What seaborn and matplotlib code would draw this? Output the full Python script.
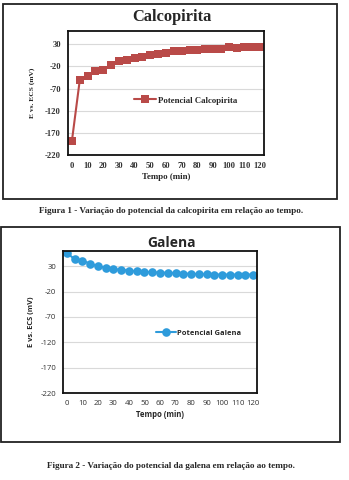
import matplotlib
matplotlib.use("Agg")
import matplotlib.pyplot as plt
import seaborn as sns
import pandas as pd
from matplotlib.patches import Rectangle

sns.set_theme(style="white")

tempo = [0, 5, 10, 15, 20, 25, 30, 35, 40, 45, 50, 55, 60, 65, 70, 75, 80, 85, 90, 95, 100, 105, 110, 115, 120]
calcopirita = [-188, -51, -41, -30, -28, -17, -7, -5, 0, 2, 5, 8, 10, 14, 14, 17, 18, 19, 20, 20, 23, 22, 23, 24, 24]
galena = [56, 44, 41, 35, 30, 27, 24, 23, 21.5, 20, 19, 18, 17.5, 17, 16.5, 15.5, 15, 14.5, 14, 13.5, 13.5, 13.5, 13.5, 13.5, 13.5]
yticks = [30, -20, -70, -120, -170, -220]
xtick_labels = [0, 10, 20, 30, 40, 50, 60, 70, 80, 90, 100, 110, 120]

df1 = pd.DataFrame({"Tempo": tempo, "E": calcopirita})
df2 = pd.DataFrame({"Tempo": tempo, "E": galena})

W, H = 349, 480
fig = plt.figure(figsize=(W / 100, H / 100), dpi=100)
fig.patch.set_facecolor("white")

def fx(px):
    return px / W

def fy(py):
    return 1 - py / H

# outer frames
fig.patches.append(Rectangle((fx(3), fy(199)), fx(334), 195 / H, transform=fig.transFigure,
                             fill=False, edgecolor="#222222", linewidth=1.3))
fig.patches.append(Rectangle((fx(1), fy(442)), fx(339), 215 / H, transform=fig.transFigure,
                             fill=False, edgecolor="#222222", linewidth=1.3))

def style_axes(ax, family, tickweight, ticksize, xlabsize, xpad, ylabpad):
    ax.set_xlim(-2.5, 122.5)
    ax.set_ylim(-220, 60)
    ax.set_yticks(yticks)
    ax.set_yticklabels([str(v) for v in yticks], family=family, fontsize=ticksize,
                       color="#333333", weight=tickweight)
    ax.set_xticks(xtick_labels)
    ax.set_xticklabels([str(v) for v in xtick_labels], family=family, fontsize=ticksize,
                       color="#333333", weight=tickweight)
    ax.set_xticks([t - 2.5 for t in tempo] + [122.5], minor=True)
    ax.tick_params(axis="x", which="major", length=0, pad=xpad)
    ax.tick_params(axis="x", which="minor", length=2, color="#888888", width=0.5)
    ax.tick_params(axis="y", length=0, pad=5)
    ax.grid(axis="y", color="#d9d9d9", linewidth=0.8)
    ax.set_axisbelow(True)
    for s in ax.spines.values():
        s.set_visible(True)
        s.set_color("#111111")
        s.set_linewidth(1.3)
    ax.set_xlabel("Tempo (min)", family=family, fontsize=xlabsize, weight="bold", labelpad=2)
    ax.set_ylabel("E vs. ECS (mV)", family=family, fontsize=5.4, weight="bold", labelpad=ylabpad)

# top chart
ax1 = fig.add_axes([fx(68), fy(155), fx(196), 124 / H])
sns.lineplot(data=df1, x="Tempo", y="E", ax=ax1, color="#B94A48", marker="s",
             markersize=5.6, markeredgewidth=0, linewidth=1.5, label="Potencial Calcopirita")
style_axes(ax1, "Liberation Serif", "bold", 6.2, 6.4, 5, 7)
fig.text(fx(172), fy(17), "Calcopirita", ha="center", va="center",
         family="Liberation Serif", fontsize=11.8, weight="bold")
ax1.legend(loc="center", bbox_to_anchor=(0.60, 0.44), frameon=False,
           prop={"family": "Liberation Serif", "weight": "bold", "size": 6.3},
           handlelength=2.6, handletextpad=0.2)

fig.text(fx(171), fy(211), "Figura 1 - Variação do potencial da calcopirita em relação ao tempo.",
         ha="center", va="center", family="Liberation Serif", weight="bold", fontsize=6.6)

# bottom chart
ax2 = fig.add_axes([fx(63), fy(393), fx(194), 142 / H])
sns.lineplot(data=df2, x="Tempo", y="E", ax=ax2, color="#2E9BDB", marker="o",
             markersize=6.2, markeredgewidth=0, linewidth=1.5, label="Potencial Galena")
style_axes(ax2, "Open Sans", "normal", 5.6, 5.6, 5, 4)
fig.text(fx(172), fy(243), "Galena", ha="center", va="center",
         family="Open Sans", fontsize=10, weight="bold")
ax2.legend(loc="center", bbox_to_anchor=(0.70, 0.42), frameon=False,
           prop={"family": "Open Sans", "weight": "bold", "size": 5.4},
           handlelength=2.6, handletextpad=0.2)

fig.text(fx(171), fy(466), "Figura 2 - Variação do potencial da galena em relação ao tempo.",
         ha="center", va="center", family="Liberation Serif", weight="bold", fontsize=6.6)

fig.savefig("out.png", dpi=100, facecolor="white")
